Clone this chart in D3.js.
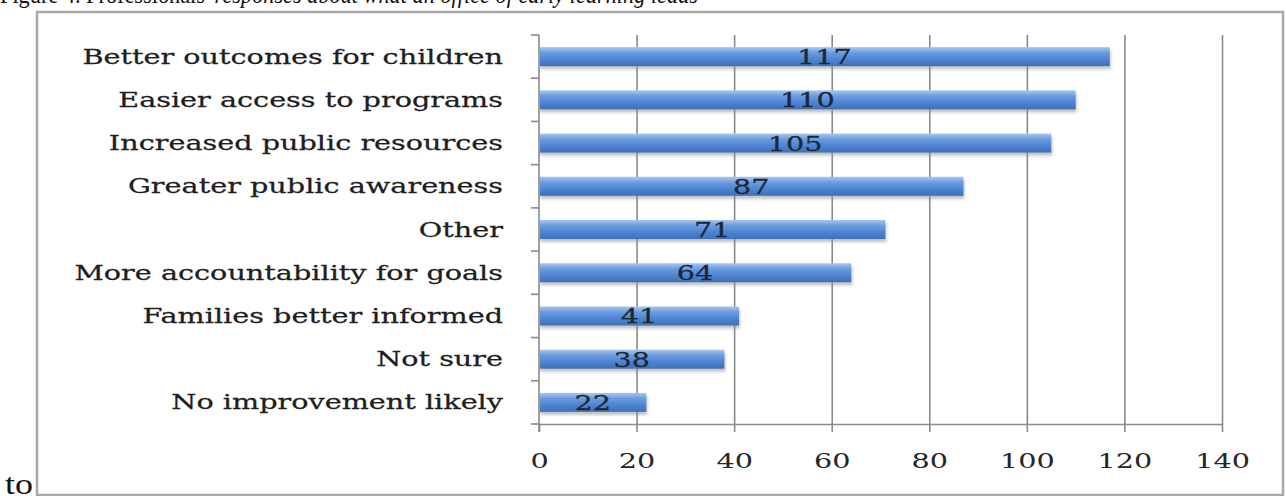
<!DOCTYPE html>
<html>
<head>
<meta charset="utf-8">
<script src="https://cdn.jsdelivr.net/npm/d3@7"></script>
<style>
  html, body { margin: 0; padding: 0; background: #fff; }
  svg { display: block; }
</style>
</head>
<body>
<svg id="chart" width="1286" height="496"></svg>
<script>
const categories = [
  'Better outcomes for children',
  'Easier access to programs',
  'Increased public resources',
  'Greater public awareness',
  'Other',
  'More accountability for goals',
  'Families better informed',
  'Not sure',
  'No improvement likely',
]
const values = [117, 110, 105, 87, 71, 64, 41, 38, 22]
const xTicks = [0, 20, 40, 60, 80, 100, 120, 140]
const titleStart = "Figure 4. Professionals' "
const titleRest = 'responses about what an office of early learning leads'

const plotLeft = 539
const plotRight = 1222
const plotTop = 35
const plotBottom = 424
const labelFont = 'DejaVu Serif'
const pageFont = '"Liberation Serif", "Times New Roman", serif'

const svg = d3.select('#chart')

const defs = svg.append('defs')
const grad = defs.append('linearGradient')
  .attr('id', 'barFill')
  .attr('x1', 0).attr('y1', 0).attr('x2', 0).attr('y2', 1)
grad.append('stop').attr('offset', '0%').attr('stop-color', '#a9c7ef')
grad.append('stop').attr('offset', '30%').attr('stop-color', '#6a9cde')
grad.append('stop').attr('offset', '65%').attr('stop-color', '#4d83d1')
grad.append('stop').attr('offset', '100%').attr('stop-color', '#3f70ba')

const blur = defs.append('filter').attr('id', 'shadow')
  .attr('x', '-5%').attr('y', '-50%').attr('width', '110%').attr('height', '200%')
blur.append('feGaussianBlur').attr('stdDeviation', 1.8)

// outer frame and caption text from the page
svg.append('rect')
  .attr('x', 37).attr('y', 12)
  .attr('width', 1246).attr('height', 483)
  .attr('fill', '#fff')
  .attr('stroke', '#a8a8a8')
  .attr('stroke-width', 2.5)

svg.append('text')
  .attr('x', 0).attr('y', 3)
  .attr('font-family', pageFont)
  .attr('font-size', 26)
  .attr('fill', '#111')
  .attr('textLength', 698)
  .attr('lengthAdjust', 'spacingAndGlyphs')
  .call((t) => {
    t.append('tspan').text(titleStart)
    t.append('tspan').attr('font-style', 'italic').text(titleRest)
  })

svg.append('text')
  .attr('x', 5).attr('y', 494)
  .attr('font-family', pageFont)
  .attr('font-size', 30)
  .attr('fill', '#111')
  .attr('textLength', 28)
  .attr('lengthAdjust', 'spacingAndGlyphs')
  .text('to')

// scales
const x = d3.scaleLinear().domain([0, 140]).range([plotLeft, plotRight])
const y = d3.scaleBand().domain(categories).range([plotTop, plotBottom]).paddingInner(0.56).paddingOuter(0.28)

// text is stretched horizontally in the source, measure once
const labelSize = 19.5
const probe = svg.append('text')
  .attr('font-family', labelFont)
  .attr('font-size', labelSize)
  .text(categories[0])
const stretch = 421 / probe.node().getComputedTextLength()
probe.remove()

// gridlines + bottom axis
const xAxis = d3.axisBottom(x).tickValues(xTicks).tickSizeOuter(0).tickSizeInner(8).tickFormat(d3.format('d'))
const xAxisG = svg.append('g')
  .attr('transform', `translate(0, ${plotBottom})`)
  .call(xAxis)
xAxisG.select('.domain').attr('stroke', '#8a8a8a').attr('stroke-width', 1.6)
xAxisG.selectAll('.tick line')
  .attr('y1', (d) => (d === 0 ? 0 : -(plotBottom - plotTop)))
  .attr('y2', 8)
  .attr('stroke', '#8a8a8a')
  .attr('stroke-width', 1.6)
xAxisG.selectAll('.tick text')
  .attr('y', 0).attr('dy', 0)
  .attr('font-family', labelFont)
  .attr('font-size', 19.5)
  .attr('fill', '#262626')
  .attr('text-anchor', 'middle')
  .attr('transform', `translate(0, 44) scale(${stretch}, 1)`)

// left axis line and ticks at band boundaries
const yAxisG = svg.append('g').attr('class', 'y-axis')
yAxisG.append('line')
  .attr('x1', plotLeft).attr('x2', plotLeft)
  .attr('y1', plotTop).attr('y2', plotBottom + 8)
  .attr('stroke', '#8a8a8a').attr('stroke-width', 1.6)
const step = (plotBottom - plotTop) / categories.length
yAxisG.selectAll('line.btick')
  .data(d3.range(categories.length + 1))
  .join('line')
  .attr('class', 'btick')
  .attr('x1', plotLeft - 8).attr('x2', plotLeft)
  .attr('y1', (i) => plotTop + i * step).attr('y2', (i) => plotTop + i * step)
  .attr('stroke', '#8a8a8a').attr('stroke-width', 1.6)

// category labels
svg.append('g')
  .selectAll('text')
  .data(categories)
  .join('text')
  .attr('transform', (d) => `translate(503, ${y(d) + y.bandwidth() / 2 + 7}) scale(${stretch}, 1)`)
  .attr('text-anchor', 'end')
  .attr('font-family', labelFont)
  .attr('font-size', labelSize)
  .attr('fill', '#1e1e1e')
  .attr('stroke', '#1e1e1e')
  .attr('stroke-width', 0.25)
  .text((d) => d)

// bars
const rows = categories.map((c, i) => ({ name: c, value: values[i] }))
const bars = svg.append('g').attr('class', 'bars')
bars.selectAll('rect.shadow')
  .data(rows)
  .join('rect')
  .attr('class', 'shadow')
  .attr('x', x(0) + 1)
  .attr('y', (d) => y(d.name) + 3)
  .attr('width', (d) => x(d.value) - x(0))
  .attr('height', y.bandwidth())
  .attr('fill', '#8f8f8f')
  .attr('opacity', 0.55)
  .attr('filter', 'url(#shadow)')
bars.selectAll('rect.bar')
  .data(rows)
  .join('rect')
  .attr('class', 'bar')
  .attr('x', x(0) + 1)
  .attr('y', (d) => y(d.name))
  .attr('width', (d) => x(d.value) - x(0) - 1)
  .attr('height', y.bandwidth())
  .attr('fill', 'url(#barFill)')

// value labels centred in the bars
bars.selectAll('text')
  .data(rows)
  .join('text')
  .attr('transform', (d) => `translate(${(x(0) + x(d.value)) / 2}, ${y(d.name) + y.bandwidth() / 2 + 7.5}) scale(${stretch}, 1)`)
  .attr('text-anchor', 'middle')
  .attr('font-family', labelFont)
  .attr('font-size', 19.5)
  .attr('fill', '#1b2838')
  .attr('stroke', '#1b2838')
  .attr('stroke-width', 0.25)
  .text((d) => d.value)
</script>
</body>
</html>
